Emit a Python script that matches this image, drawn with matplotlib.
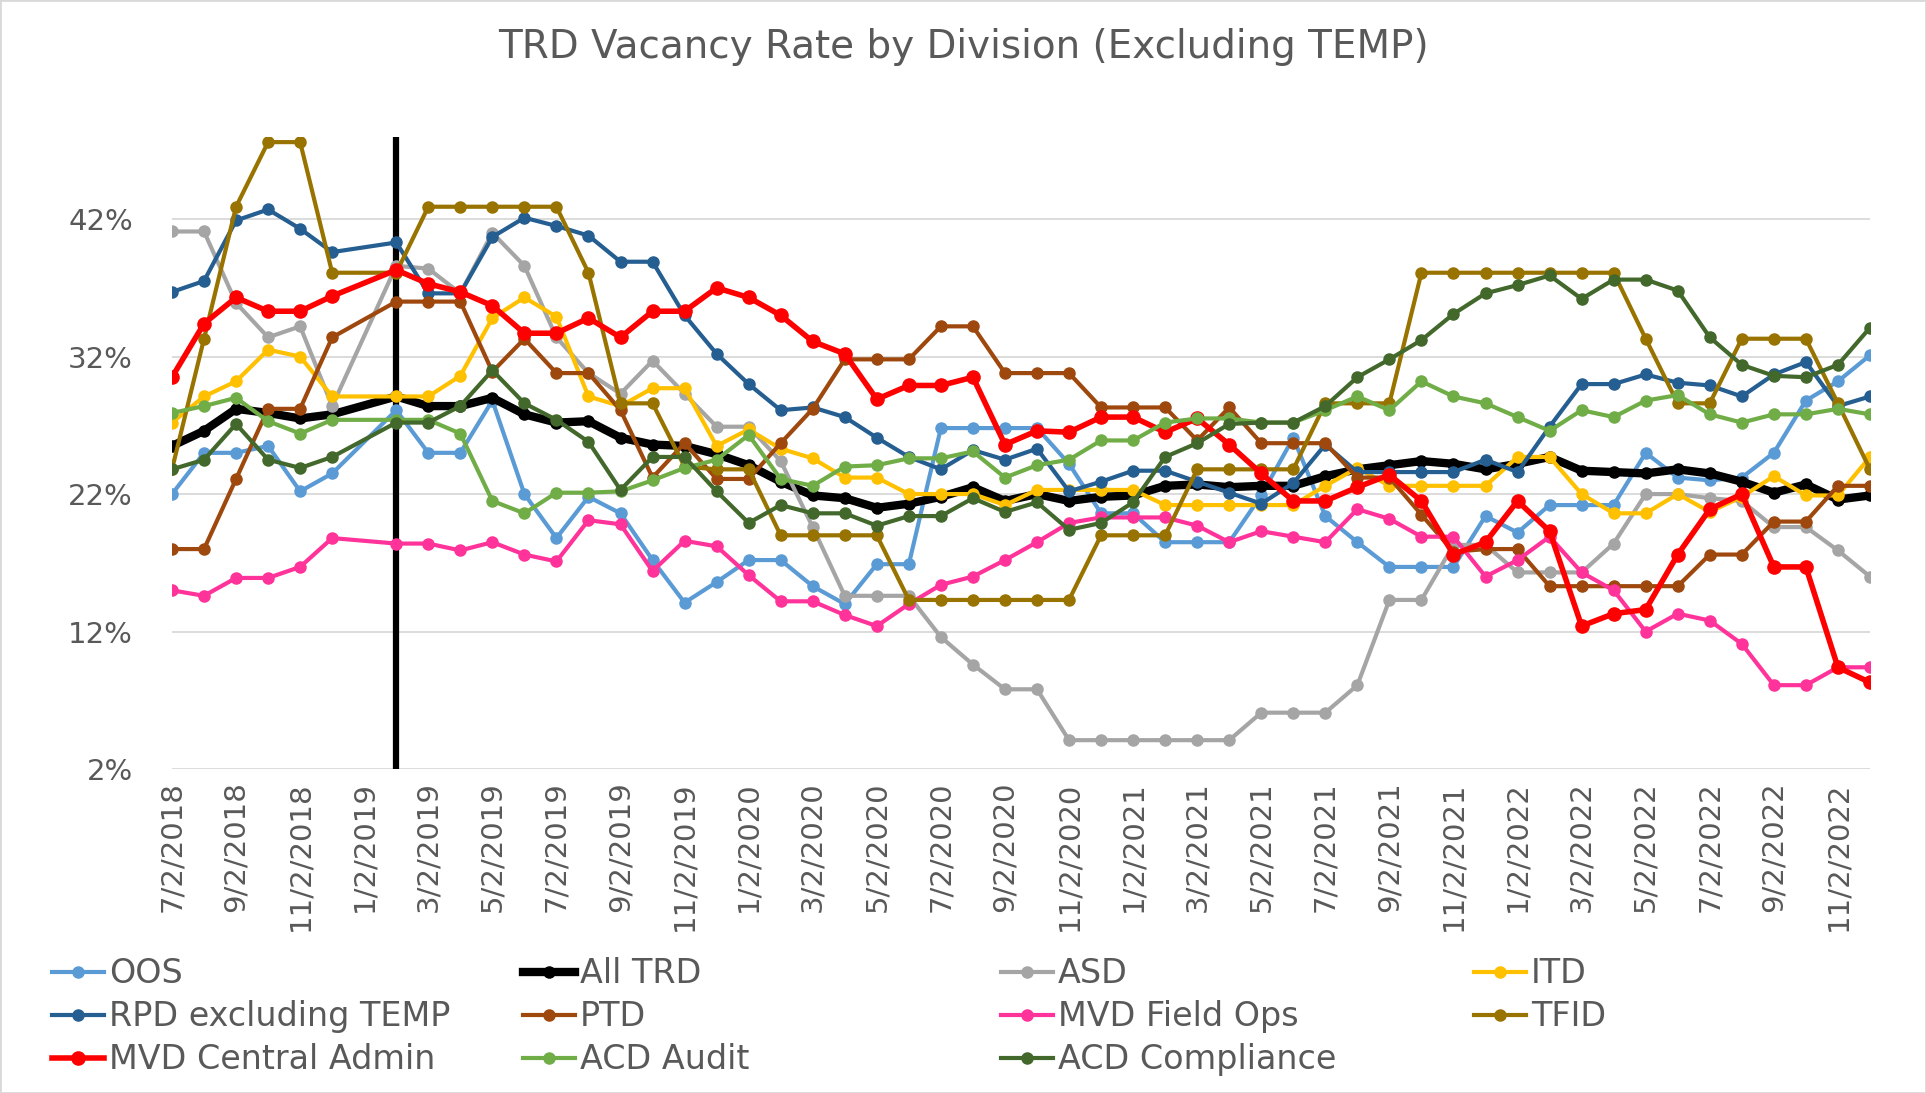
import numpy as np
import matplotlib.pyplot as plt
from matplotlib.patches import Rectangle

# month index: 0 = 7/2018 ... 53 = 12/2022 (1/2019 has no data)
months = [i for i in range(54) if i != 6]

tick_labels = ["7/2/2018", "9/2/2018", "11/2/2018",
               "1/2/2019", "3/2/2019", "5/2/2019", "7/2/2019", "9/2/2019", "11/2/2019",
               "1/2/2020", "3/2/2020", "5/2/2020", "7/2/2020", "9/2/2020", "11/2/2020",
               "1/2/2021", "3/2/2021", "5/2/2021", "7/2/2021", "9/2/2021", "11/2/2021",
               "1/2/2022", "3/2/2022", "5/2/2022", "7/2/2022", "9/2/2022", "11/2/2022"]

oos = [22, 25, 25, 25.5, 22.2, 23.5,
       28.1, 25, 25, 28.8, 22, 18.8, 21.8,
       20.6, 17.2, 14.1, 15.6, 17.2, 17.2,
       15.3, 14, 16.9, 16.9, 26.8, 26.8,
       26.8, 26.8, 24.2, 20.6, 20.6, 18.5, 18.5, 18.5,
       21.9, 26.1, 20.4, 18.5, 16.7, 16.7,
       16.7, 20.4, 19.2, 21.2, 21.2, 21.2, 25,
       23.2, 23, 23.2, 25, 28.8, 30.2, 32.1]
all_trd = [25.5, 26.6, 28.2, 27.9, 27.5, 27.8,
           29.1, 28.4, 28.4, 29, 27.8, 27.2, 27.3,
           26.1, 25.6, 25.5, 24.9, 24.1, 22.9,
           21.9, 21.7, 21, 21.3, 21.8, 22.5,
           21.5, 22, 21.5, 21.8, 21.9, 22.6, 22.7, 22.5,
           22.6, 22.6, 23.3, 23.8, 24.1, 24.4,
           24.2, 23.8, 24.2, 24.7, 23.7, 23.6, 23.5,
           23.8, 23.5, 22.9, 22.1, 22.7, 21.6, 21.9]
asd = [41.1, 41.1, 35.9, 33.4, 34.2, 28.4,
       38.6, 38.4, 36.6, 41, 38.6, 33.4, 30.8,
       29.3, 31.7, 29.3, 26.9, 26.9, 24.4,
       19.6, 14.6, 14.6, 14.6, 11.6, 9.6,
       7.8, 7.8, 4.1, 4.1, 4.1, 4.1, 4.1, 4.1,
       6.1, 6.1, 6.1, 8.1, 14.3, 14.3,
       18.3, 18.3, 16.3, 16.3, 16.3, 18.4, 22,
       22, 21.7, 21.5, 19.6, 19.6, 17.9, 16]
itd = [27.2, 29.1, 30.2, 32.5, 32, 29.1,
       29.1, 29.1, 30.6, 34.8, 36.3, 34.9, 29.1,
       28.4, 29.7, 29.7, 25.5, 26.7, 25.3,
       24.6, 23.2, 23.2, 22, 22, 22,
       21.2, 22.3, 22.3, 22.3, 22.3, 21.2, 21.2, 21.2,
       21.2, 21.2, 22.6, 23.9, 22.6, 22.6,
       22.6, 22.6, 24.7, 24.7, 22, 20.6, 20.6,
       22, 20.7, 21.8, 23.3, 21.9, 21.9, 24.7]
rpd = [36.7, 37.5, 41.9, 42.7, 41.3, 39.6,
       40.3, 36.6, 36.6, 40.7, 42.1, 41.5, 40.8,
       38.9, 38.9, 35, 32.2, 30, 28.1,
       28.3, 27.6, 26.1, 24.7, 23.8, 25.2,
       24.5, 25.3, 22.2, 22.9, 23.7, 23.7, 22.9, 22.1,
       21.3, 22.8, 25.6, 23.6, 23.6, 23.6,
       23.6, 24.5, 23.6, 26.9, 30, 30, 30.7,
       30.1, 29.9, 29.1, 30.7, 31.6, 28.4, 29.1]
ptd = [18, 18, 23.1, 28.2, 28.2, 33.4,
       36, 36, 36, 30.9, 33.3, 30.8, 30.8,
       28.1, 23.2, 25.7, 23.1, 23.1, 25.7,
       28.2, 31.8, 31.8, 31.8, 34.2, 34.2,
       30.8, 30.8, 30.8, 28.3, 28.3, 28.3, 25.9, 28.3,
       25.7, 25.7, 25.7, 23.2, 23.2, 20.5,
       17.8, 18, 18, 15.3, 15.3, 15.3, 15.3,
       15.3, 17.6, 17.6, 20, 20, 22.6, 22.6]
mvd_fo = [15, 14.6, 15.9, 15.9, 16.7, 18.8,
          18.4, 18.4, 17.9, 18.5, 17.6, 17.1, 20.1,
          19.8, 16.4, 18.6, 18.2, 16.1, 14.2,
          14.2, 13.2, 12.4, 14, 15.4, 16,
          17.2, 18.5, 19.9, 20.3, 20.3, 20.3, 19.7, 18.5,
          19.3, 18.9, 18.5, 20.9, 20.2, 18.9,
          18.9, 16, 17.2, 18.9, 16.3, 15, 12,
          13.3, 12.8, 11.1, 8.1, 8.1, 9.4, 9.4]
tfid = [23.8, 33.3, 42.9, 47.6, 47.6, 38.1,
        38.1, 42.9, 42.9, 42.9, 42.9, 42.9, 38.1,
        28.6, 28.6, 24, 23.8, 23.8, 19,
        19, 19, 19, 14.3, 14.3, 14.3,
        14.3, 14.3, 14.3, 19, 19, 19, 23.8, 23.8,
        23.8, 23.8, 28.6, 28.6, 28.6, 38.1,
        38.1, 38.1, 38.1, 38.1, 38.1, 38.1, 33.3,
        28.6, 28.6, 33.3, 33.3, 33.3, 28.6, 23.8]
mvd_ca = [30.5, 34.4, 36.3, 35.3, 35.3, 36.4,
          38.3, 37.3, 36.7, 35.7, 33.7, 33.7, 34.8,
          33.4, 35.3, 35.3, 37, 36.3, 35,
          33.1, 32.2, 28.9, 29.9, 29.9, 30.5,
          25.6, 26.6, 26.5, 27.6, 27.6, 26.5, 27.5, 25.6,
          23.5, 21.5, 21.5, 22.5, 23.4, 21.5,
          17.6, 18.5, 21.5, 19.3, 12.4, 13.3, 13.6,
          17.6, 20.9, 22, 16.7, 16.7, 9.4, 8.3]
acd_audit = [27.9, 28.4, 29, 27.3, 26.4, 27.4,
             27.4, 27.4, 26.4, 21.5, 20.6, 22.1, 22.1,
             22.2, 23, 23.9, 24.5, 26.3, 23.1,
             22.6, 24, 24.1, 24.6, 24.6, 25.1,
             23.2, 24.1, 24.5, 25.9, 25.9, 27.2, 27.5, 27.5,
             27.2, 27.2, 28.1, 29.1, 28.1, 30.2,
             29.1, 28.6, 27.6, 26.6, 28.1, 27.6, 28.8,
             29.2, 27.8, 27.2, 27.8, 27.8, 28.2, 27.8]
acd_comp = [23.8, 24.5, 27.1, 24.5, 23.9, 24.7,
            27.2, 27.2, 28.4, 31, 28.6, 27.4, 25.8,
            22.3, 24.7, 24.7, 22.2, 19.9, 21.2,
            20.6, 20.6, 19.7, 20.4, 20.4, 21.7,
            20.7, 21.4, 19.4, 19.9, 21.4, 24.7, 25.7, 27.1,
            27.2, 27.2, 28.4, 30.5, 31.8, 33.2,
            35.1, 36.6, 37.2, 37.9, 36.2, 37.6, 37.6,
            36.8, 33.4, 31.4, 30.6, 30.5, 31.4, 34.1]

# (label, values, colour)
series = [("OOS", oos, "#5B9BD5"),
          ("All TRD", all_trd, "#000000"),
          ("ASD", asd, "#A5A5A5"),
          ("ITD", itd, "#FFC000"),
          ("RPD excluding TEMP", rpd, "#255E91"),
          ("PTD", ptd, "#9E480E"),
          ("MVD Field Ops", mvd_fo, "#FF3399"),
          ("TFID", tfid, "#997300"),
          ("MVD Central Admin", mvd_ca, "#FF0000"),
          ("ACD Audit", acd_audit, "#70AD47"),
          ("ACD Compliance", acd_comp, "#43682B")]

txt = "#595959"
fig = plt.figure(figsize=(19.26, 10.93), dpi=100)
ax = fig.add_axes([0.0893, 0.2964, 0.8816, 0.5786])

handles = {}
for name, vals, col in series:
    lw, ms = 3.0, 8
    if name == "All TRD":
        lw, ms = 6, 8
    if name == "MVD Central Admin":
        lw, ms = 4, 9.5
    h, = ax.plot(months, vals, color=col, lw=lw, marker="o", ms=ms, label=name,
                 solid_joinstyle="round", zorder=3)
    handles[name] = h

# marker line at Feb 2019
ax.axvline(7, color="black", lw=4.5, zorder=2)

ax.set_xlim(0, 53)
ax.set_ylim(2, 48)
ax.set_yticks([2, 12, 22, 32, 42])
ax.set_yticklabels(["2%", "12%", "22%", "32%", "42%"])
ax.set_xticks(range(0, 53, 2))
ax.set_xticklabels(tick_labels, rotation=90)
ax.tick_params(axis="y", length=0, pad=28, labelsize=21, labelcolor=txt)
ax.tick_params(axis="x", length=0, pad=9, labelsize=21, labelcolor=txt)
ax.grid(axis="y", color="#D9D9D9", lw=1.3)
ax.set_axisbelow(True)
for s in ax.spines.values():
    s.set_visible(False)

fig.text(0.5, 0.957, "TRD Vacancy Rate by Division (Excluding TEMP)", ha="center", va="center",
         fontsize=28, color=txt)

cols = [["OOS", "RPD excluding TEMP", "MVD Central Admin"],
        ["All TRD", "PTD", "ACD Audit"],
        ["ASD", "MVD Field Ops", "ACD Compliance"],
        ["ITD", "TFID"]]
xs = [0.027, 0.2716, 0.5197, 0.7653]
for names, x0 in zip(cols, xs):
    leg = fig.legend([handles[n] for n in names], names, loc="upper left",
                     bbox_to_anchor=(x0, 0.124), frameon=False, fontsize=24,
                     handlelength=1.55, handletextpad=0.15, labelspacing=0.3,
                     borderpad=0, borderaxespad=0, numpoints=1)
    for t in leg.get_texts():
        t.set_color(txt)

fig.patches.append(Rectangle((0, 0), 1, 1, transform=fig.transFigure, fill=False,
                             edgecolor="#D9D9D9", lw=2))

plt.savefig("out.png", dpi=100)
